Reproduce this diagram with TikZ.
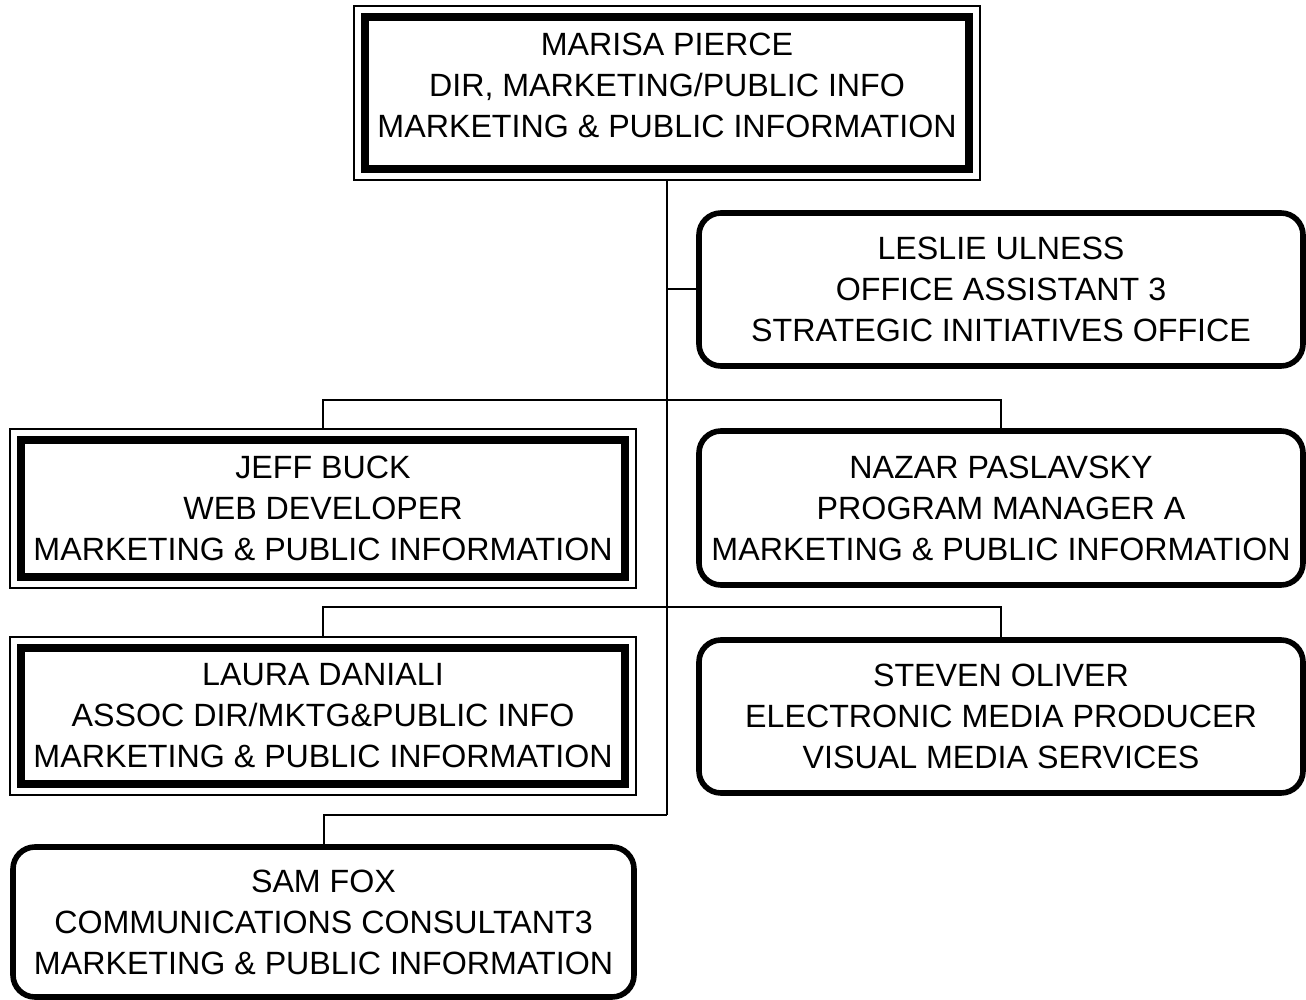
\documentclass[tikz,border=0pt]{standalone}
\usepackage{fontspec}
\setmainfont{Liberation Sans}
\usepackage{tikz}
\usetikzlibrary{calc}
\usetikzlibrary{fit}

\tikzset{
  x=0.5pt, y=-0.5pt,
  person/.style={align=center, font=\fontsize{16.1}{20.5}\selectfont, inner sep=0pt},
  headbox/.style={person, draw, line width=4pt, minimum width=302pt},
  roundbox/.style={person, draw, line width=2.8pt, rounded corners=11pt, minimum width=302pt},
  framebox/.style={draw, line width=1pt, inner sep=3.3pt},
  link/.style={line width=1pt}
}

\begin{document}
\begin{tikzpicture}
      \useasboundingbox (0,0) rectangle (1306,1000);

      % Define the coordinates of the branch points
      \coordinate (row1) at (667, 400);
      \coordinate (row2) at (667, 607);
      \coordinate (row3) at (667, 815);

      % Boxes with a double frame
      \node[headbox, minimum height=76pt, text depth=8pt] (marisa) at (667, 93)
        {MARISA PIERCE\\DIR, MARKETING/PUBLIC INFO\\MARKETING \& PUBLIC INFORMATION};
      \node[headbox, minimum height=68.5pt] (jeff) at (323, 508.5)
        {JEFF BUCK\\WEB DEVELOPER\\MARKETING \& PUBLIC INFORMATION};
      \node[headbox, minimum height=68pt] (laura) at (323, 716)
        {LAURA DANIALI\\ASSOC DIR/MKTG\&PUBLIC INFO\\MARKETING \& PUBLIC INFORMATION};
      \node[framebox, fit=(marisa)] (marisaout) {};
      \node[framebox, fit=(jeff)] (jeffout) {};
      \node[framebox, fit=(laura)] (lauraout) {};

      % Boxes with round corners
      \node[roundbox, minimum height=76.5pt] (leslie) at (1001, 289.5)
        {LESLIE ULNESS\\OFFICE ASSISTANT 3\\STRATEGIC INITIATIVES OFFICE};
      \node[roundbox, minimum height=77pt] (nazar) at (1001, 508)
        {NAZAR PASLAVSKY\\PROGRAM MANAGER A\\MARKETING \& PUBLIC INFORMATION};
      \node[roundbox, minimum height=76.5pt] (steven) at (1001, 716.5)
        {STEVEN OLIVER\\ELECTRONIC MEDIA PRODUCER\\VISUAL MEDIA SERVICES};
      \node[roundbox, minimum width=310.5pt, minimum height=75pt] (sam) at (323.5, 922)
        {SAM FOX\\COMMUNICATIONS CONSULTANT3\\MARKETING \& PUBLIC INFORMATION};

      % Draw the connectors
      \draw[link] (marisaout.south) -- (row3);
      \draw[link] (marisaout.south |- leslie.west) -- (leslie.west);
      \draw[link] (jeffout.north) |- (row1) -| (nazar.north);
      \draw[link] (lauraout.north) |- (row2) -| (steven.north);
      \draw[link] (sam.north) |- (row3);
    \end{tikzpicture}
\end{document}
